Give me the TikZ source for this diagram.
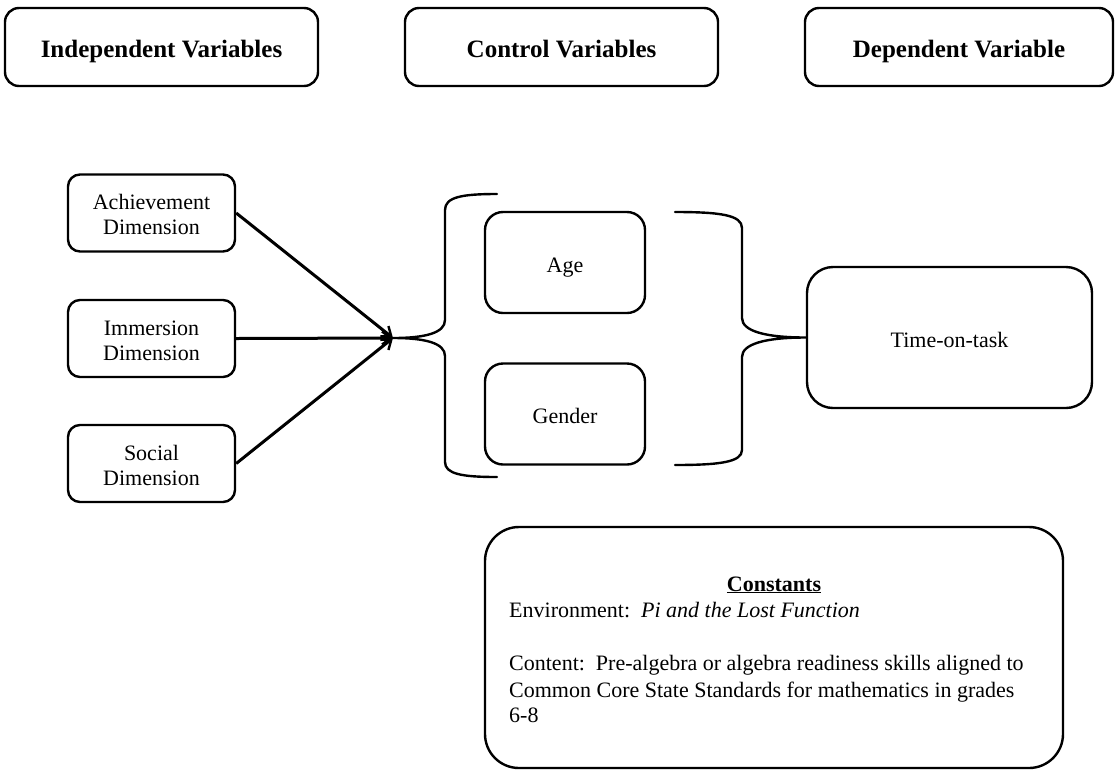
\documentclass[tikz,border=0pt]{standalone}
\usepackage{fontspec}
\setmainfont{Liberation Serif}
\usetikzlibrary{arrows.meta}

\newcommand{\firstline}{\rule{0pt}{19pt}}

\tikzset{
  box/.style={draw=black, line width=2.4pt, rounded corners=#1, align=center,
              inner sep=0pt, font=\fontsize{22}{25}\selectfont},
  box/.default=12pt,
  oneline/.style={text height=19pt, text depth=0pt},
  headbox/.style={box=14pt, minimum width=313pt, minimum height=78pt,
              text height=20pt, text depth=0pt,
              font=\fontsize{25}{29}\bfseries\selectfont},
  dimbox/.style={box=12pt, minimum width=167pt, minimum height=77pt},
  ctrlbox/.style={box=18pt, minimum width=160pt, minimum height=101pt, oneline},
  feed/.style={line width=3pt, -{Straight Barb[length=9pt,width=13pt,line width=2.4pt]}},
  brace/.style={line width=2.4pt, line cap=round},
  plain/.style={inner sep=0pt, font=\fontsize{22}{26}\selectfont},
}

\begin{document}
\begin{tikzpicture}[x=1pt, y=-1pt]
\useasboundingbox (0,0) rectangle (1118,772);

% column headers
\node[headbox] (hind) at (161.5,47) {Independent Variables};
\node[headbox] (hctl) at (561.5,47) {Control Variables};
\node[headbox, minimum width=308pt] (hdep) at (959,47) {Dependent Variable};

% independent variables
\node[dimbox] (ach) at (151.5,213) {\firstline Achievement\\Dimension};
\node[dimbox] (imm) at (151.5,338.5) {\firstline Immersion\\Dimension};
\node[dimbox] (soc) at (151.5,463.5) {\firstline Social\\Dimension};

% control variables
\node[ctrlbox] (age) at (565,262.5) {Age};
\node[ctrlbox] (gen) at (565,414) {Gender};

% dependent variable
\node[box=26pt, minimum width=285pt, minimum height=141pt, oneline] (tot) at (949.5,337.5) {Time-on-task};

% converging arrows
\coordinate (hub) at (393,338);
\draw[feed] (ach.east) -- (hub);
\draw[feed] (imm.east) -- (hub);
\draw[feed] (soc.east) -- (hub);

% left brace around the control variables
\draw[brace] (497,194) .. controls (462,194) and (445,197) .. (445,210)
  -- (445,320) .. controls (445,333) and (425,338) .. (hub)
  .. controls (425,338) and (445,343) .. (445,356)
  -- (445,462) .. controls (445,474) and (462,477) .. (497,477);

% right brace feeding the dependent variable
\draw[brace] (675,212) .. controls (720,212) and (742,215) .. (742,228)
  -- (742,318) .. controls (742,331) and (765,337.5) .. (tot.west)
  .. controls (765,337.5) and (742,344) .. (742,357)
  -- (742,450) .. controls (742,462) and (720,465) .. (675,465);

% constants
\node[box=34pt, minimum width=578pt, minimum height=241pt] (const) at (774,647.5) {};
\node[plain, anchor=base, font=\fontsize{22}{26}\bfseries\selectfont] (ctitle) at (774,591) {\underline{Constants}};
\node[plain, anchor=base west] (cenv) at (509,617) {Environment:\ \ \textit{Pi and the Lost Function}};
\node[plain, anchor=base west] (ccon1) at (509,670) {Content:\ \ Pre-algebra or algebra readiness skills aligned to};
\node[plain, anchor=base west] (ccon2) at (509,697) {Common Core State Standards for mathematics in grades};
\node[plain, anchor=base west] (ccon3) at (509,722) {6-8};
\end{tikzpicture}
\end{document}
